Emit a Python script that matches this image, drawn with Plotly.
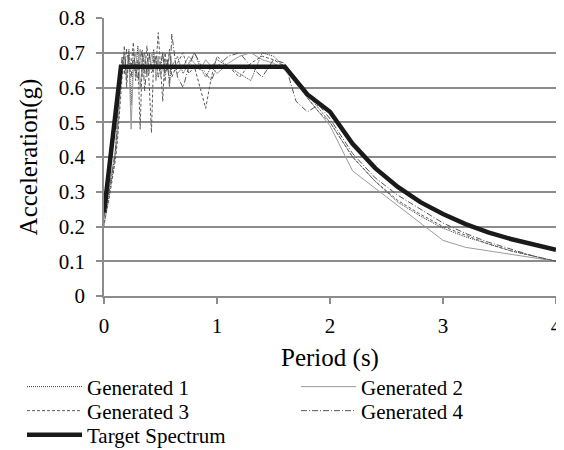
import plotly.graph_objects as go

period = [0, 0.04, 0.08, 0.1, 0.12, 0.14, 0.16, 0.18, 0.2, 0.22, 0.24, 0.26, 0.28, 0.3,
          0.32, 0.34, 0.36, 0.38, 0.4, 0.42, 0.44, 0.46, 0.48, 0.5, 0.52, 0.54, 0.56,
          0.58, 0.6, 0.65, 0.7, 0.75, 0.8, 0.85, 0.9, 0.95, 1.0, 1.1, 1.2, 1.3, 1.4,
          1.5, 1.6, 1.7, 1.8, 1.9, 2.0, 2.2, 2.4, 2.6, 2.8, 3.0, 3.2, 3.4, 3.6, 3.8, 4.0]

gen1 = [0.20, 0.28, 0.36, 0.40, 0.47, 0.58, 0.66, 0.70, 0.62, 0.71, 0.55, 0.68, 0.64, 0.72,
        0.60, 0.67, 0.70, 0.63, 0.69, 0.66, 0.71, 0.62, 0.68, 0.65, 0.70, 0.64, 0.67,
        0.62, 0.66, 0.69, 0.64, 0.67, 0.70, 0.66, 0.63, 0.66, 0.68, 0.66, 0.64, 0.62, 0.70,
        0.69, 0.66, 0.62, 0.58, 0.54, 0.50, 0.40, 0.33, 0.27, 0.23, 0.195, 0.17, 0.15, 0.13, 0.115, 0.10]

gen2 = [0.22, 0.30, 0.38, 0.42, 0.50, 0.62, 0.66, 0.70, 0.64, 0.69, 0.48, 0.66, 0.70, 0.65,
        0.71, 0.63, 0.68, 0.66, 0.64, 0.70, 0.67, 0.65, 0.69, 0.63, 0.66, 0.68, 0.65,
        0.70, 0.67, 0.64, 0.66, 0.69, 0.67, 0.65, 0.68, 0.66, 0.64, 0.67, 0.69, 0.70, 0.68,
        0.67, 0.65, 0.61, 0.57, 0.53, 0.49, 0.36, 0.31, 0.26, 0.21, 0.16, 0.14, 0.13, 0.12, 0.11, 0.10]

gen3 = [0.21, 0.27, 0.35, 0.39, 0.45, 0.55, 0.64, 0.72, 0.60, 0.70, 0.66, 0.73, 0.62, 0.68,
        0.48, 0.70, 0.64, 0.72, 0.61, 0.47, 0.69, 0.66, 0.758, 0.66, 0.56, 0.70, 0.65,
        0.71, 0.63, 0.67, 0.70, 0.64, 0.66, 0.60, 0.54, 0.63, 0.69, 0.66, 0.63, 0.67, 0.69,
        0.68, 0.66, 0.62, 0.57, 0.53, 0.50, 0.40, 0.33, 0.275, 0.235, 0.20, 0.175, 0.15, 0.13, 0.115, 0.10]

gen4 = [0.23, 0.29, 0.37, 0.41, 0.52, 0.60, 0.69, 0.64, 0.71, 0.67, 0.63, 0.70, 0.66, 0.62,
        0.68, 0.71, 0.59, 0.67, 0.70, 0.64, 0.66, 0.69, 0.63, 0.67, 0.70, 0.62, 0.68,
        0.60, 0.754, 0.63, 0.60, 0.66, 0.70, 0.67, 0.64, 0.62, 0.66, 0.69, 0.70, 0.66, 0.63,
        0.68, 0.67, 0.56, 0.53, 0.55, 0.51, 0.41, 0.34, 0.29, 0.25, 0.21, 0.18, 0.155, 0.135, 0.115, 0.10]

target_period = [0, 0.15, 1.6, 1.8, 2.0, 2.2, 2.4, 2.6, 2.8, 3.0, 3.2, 3.4, 3.6, 3.8, 4.0]
target_acc = [0.24, 0.66, 0.66, 0.58, 0.53, 0.438, 0.368, 0.314, 0.270, 0.236, 0.207,
              0.183, 0.164, 0.147, 0.133]

series_names = ["Generated 1", "Generated 2", "Generated 3", "Generated 4"]
x_ticks = [0, 1, 2, 3, 4]
y_ticks = [0, 0.1, 0.2, 0.3, 0.4, 0.5, 0.6, 0.7, 0.8]

FONT = "Liberation Serif"
FS = 21
GRID = "#8c8c8c"

fig = go.Figure()
styles = [
    dict(color="#3a3a3a", width=1, dash="1px,1px"),
    dict(color="#9a9a9a", width=1, dash="solid"),
    dict(color="#5a5a5a", width=1, dash="3px,2px"),
    dict(color="#555555", width=1, dash="6px,2px,1px,2px"),
]
legend_ids = ["legend", "legend2", "legend3", "legend4"]
for name, vals, st, lg in zip(series_names, [gen1, gen2, gen3, gen4], styles, legend_ids):
    fig.add_trace(go.Scatter(x=period, y=vals, mode="lines", name=name, line=st, legend=lg))

fig.add_trace(go.Scatter(x=target_period, y=target_acc, mode="lines", name="Target Spectrum",
                         line=dict(color="#1a1a1a", width=4.5), legend="legend5"))

# page body adds an 8px offset; figure coords: plot area x 96..548, y 10..288
PL, PW, PB, PH = 96, 452, 288, 278

def lx(px):
    return (px - PL) / float(PW)

def ly(py):
    return (PB - py) / float(PH)

leg_common = dict(orientation="v", xanchor="left", yanchor="middle", itemwidth=55,
                  font=dict(family=FONT, size=FS, color="black"),
                  bgcolor="rgba(0,0,0,0)", borderwidth=0)
col_left, col_right = 14, 288
rows = [379, 403, 427]

fig.update_layout(
    width=556, height=442,
    margin=dict(l=96, r=8, t=10, b=154, autoexpand=False),
    paper_bgcolor="white", plot_bgcolor="white",
    font=dict(family=FONT, size=FS, color="black"),
    showlegend=True,
    legend=dict(x=lx(col_left), y=ly(rows[0]), **leg_common),
    legend2=dict(x=lx(col_right), y=ly(rows[0]), **leg_common),
    legend3=dict(x=lx(col_left), y=ly(rows[1]), **leg_common),
    legend4=dict(x=lx(col_right), y=ly(rows[1]), **leg_common),
    legend5=dict(x=lx(col_left), y=ly(rows[2]), **leg_common),
    xaxis=dict(range=[0, 4], tickvals=x_ticks, ticktext=[str(v) for v in x_ticks],
               showgrid=False, zeroline=False, showline=True, linecolor=GRID, linewidth=1.5,
               ticks="outside", ticklen=6, tickcolor=GRID, tickwidth=1.5,
               ticklabelstandoff=4, ticklabeloverflow="allow",
               title=dict(text="Period (s)", standoff=12)),
    yaxis=dict(range=[0, 0.8], tickvals=y_ticks, ticktext=[("%g" % v) for v in y_ticks],
               showgrid=True, gridcolor=GRID, gridwidth=1.5, zeroline=False,
               showline=True, linecolor=GRID, linewidth=1.5,
               ticks="outside", ticklen=6, tickcolor=GRID, tickwidth=1.5,
               ticklabelstandoff=7, ticklabeloverflow="allow",
               title=dict(text="Acceleration(g)", standoff=14)),
)

fig.write_html("out.html")
